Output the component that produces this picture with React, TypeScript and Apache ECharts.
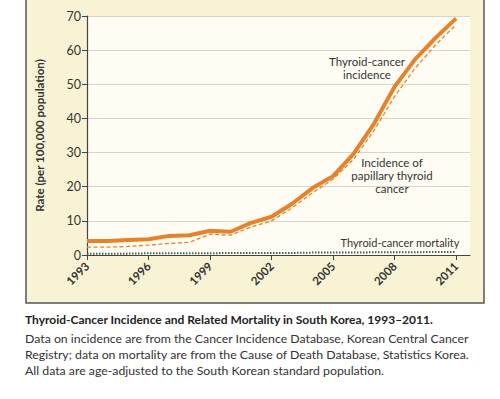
import React, { useEffect, useRef } from "react";
import * as echarts from "echarts";

const years = [1993, 1994, 1995, 1996, 1997, 1998, 1999, 2000, 2001, 2002, 2003, 2004, 2005, 2006, 2007, 2008, 2009, 2010, 2011];
const incidence = [4.1, 4.1, 4.4, 4.6, 5.6, 5.8, 7.1, 6.8, 9.4, 11.2, 15.0, 19.6, 23.1, 29.6, 38.5, 49.3, 57.3, 63.6, 69.3];
const papillary = [2.3, 2.3, 2.5, 2.9, 3.4, 3.7, 6.1, 5.8, 8.2, 10.0, 13.8, 18.2, 22.2, 28.0, 36.5, 46.4, 54.7, 61.5, 67.4];
const mortality = [0.4, 0.4, 0.4, 0.5, 0.5, 0.5, 0.5, 0.6, 0.6, 0.6, 0.6, 0.7, 0.7, 0.7, 0.8, 0.8, 0.8, 0.9, 0.9];
const tickYears = [1993, 1996, 1999, 2002, 2005, 2008, 2011];

const title = "Thyroid-Cancer Incidence and Related Mortality in South Korea, 1993\u20132011.";
const captionLines = [
  "Data on incidence are from the Cancer Incidence Database, Korean Central Cancer",
  "Registry; data on mortality are from the Cause of Death Database, Statistics Korea.",
  "All data are age-adjusted to the South Korean standard population.",
];
const incidenceLabel = ["Thyroid-cancer", "incidence"];
const papillaryLabel = ["Incidence of", "papillary thyroid", "cancer"];
const mortalityLabel = "Thyroid-cancer mortality";

const FONT = "Lato, 'Open Sans', sans-serif";

export default function App() {
  const ref = useRef<HTMLDivElement>(null);
  useEffect(() => {
    const chart = echarts.init(ref.current!, null, { renderer: "svg" });
    const pairs = (arr: number[]) => years.map((y, i) => [y, arr[i]]);
    const label = (t: string, x: number, y: number, size = 11.5) => ({
      type: "text",
      x,
      y,
      z: 100,
      style: {
        text: t,
        fontSize: size,
        fill: "#333",
        align: "center",
        verticalAlign: "middle",
        fontFamily: FONT,
      },
    });
    chart.setOption({
      animation: false,
      backgroundColor: "#ffffff",
      grid: {
        left: 87,
        top: 16,
        width: 383,
        height: 239,
        show: true,
        backgroundColor: "#fffdf3",
        borderWidth: 0,
      },
      xAxis: {
        type: "value",
        min: 1993,
        max: 2011.68,
        interval: 3,
        axisLine: { show: true, lineStyle: { color: "#444", width: 1.2 } },
        axisTick: { show: true, length: 5, customValues: tickYears, lineStyle: { color: "#444" } },
        axisLabel: {
          customValues: tickYears,
          formatter: (v: number) => String(v),
          rotate: 45,
          margin: 9,
          fontSize: 11.5,
          fontWeight: "bold",
          color: "#333",
          fontFamily: FONT,
        },
        splitLine: { show: false },
      },
      yAxis: {
        type: "value",
        min: 0,
        max: 70,
        interval: 10,
        name: "Rate (per 100,000 population)",
        nameLocation: "middle",
        nameGap: 42,
        nameTextStyle: { fontSize: 11.5, fontWeight: "bold", color: "#333", fontFamily: FONT },
        axisLine: { show: true, lineStyle: { color: "#444", width: 1.2 } },
        axisTick: { show: true, length: 5, lineStyle: { color: "#444" } },
        axisLabel: { fontSize: 12.5, color: "#333", margin: 6, fontFamily: FONT },
        splitLine: { show: true, lineStyle: { color: "#d8d5ca", width: 1 } },
      },
      series: [
        {
          name: "Thyroid-cancer mortality",
          type: "line",
          data: pairs(mortality),
          symbol: "none",
          lineStyle: { color: "#3d6650", width: 2, type: [1.5, 1.5] },
          z: 3,
        },
        {
          name: "Incidence of papillary thyroid cancer",
          type: "line",
          data: pairs(papillary),
          symbol: "none",
          lineStyle: { color: "#e8822a", width: 1.3, type: [4, 2.5] },
          z: 4,
        },
        {
          name: "Thyroid-cancer incidence",
          type: "line",
          data: pairs(incidence),
          symbol: "none",
          lineStyle: { color: "#e8822a", width: 4 },
          z: 5,
        },
      ],
      graphic: [
        {
          type: "rect",
          z: -10,
          shape: { x: 26, y: -2, width: 458, height: 305 },
          style: { fill: "#f9f3d5", stroke: "#555", lineWidth: 1.5 },
        },
        label(incidenceLabel[0], 367, 61.5, 11.5),
        label(incidenceLabel[1], 367, 74.5, 11.5),
        label(papillaryLabel[0], 392, 162.5),
        label(papillaryLabel[1], 392, 175.5),
        label(papillaryLabel[2], 392, 188.5),
        label(mortalityLabel, 400, 242.5, 11),
        {
          type: "text",
          x: 25,
          y: 319,
          style: {
            text: title,
            fontSize: 12,
            fontWeight: "bold",
            fill: "#222",
            align: "left",
            verticalAlign: "middle",
            fontFamily: FONT,
          },
        },
        ...captionLines.map((t, i) => ({
          type: "text",
          x: 25,
          y: 338.5 + i * 15.8,
          style: {
            text: t,
            fontSize: 12.3,
            fill: "#333",
            align: "left",
            verticalAlign: "middle",
            fontFamily: FONT,
          },
        })),
      ],
    });
    return () => chart.dispose();
  }, []);
  return (
    <div
      ref={ref}
      style={{ position: "fixed", left: 0, top: 0, width: 500, height: 399 }}
    />
  );
}
